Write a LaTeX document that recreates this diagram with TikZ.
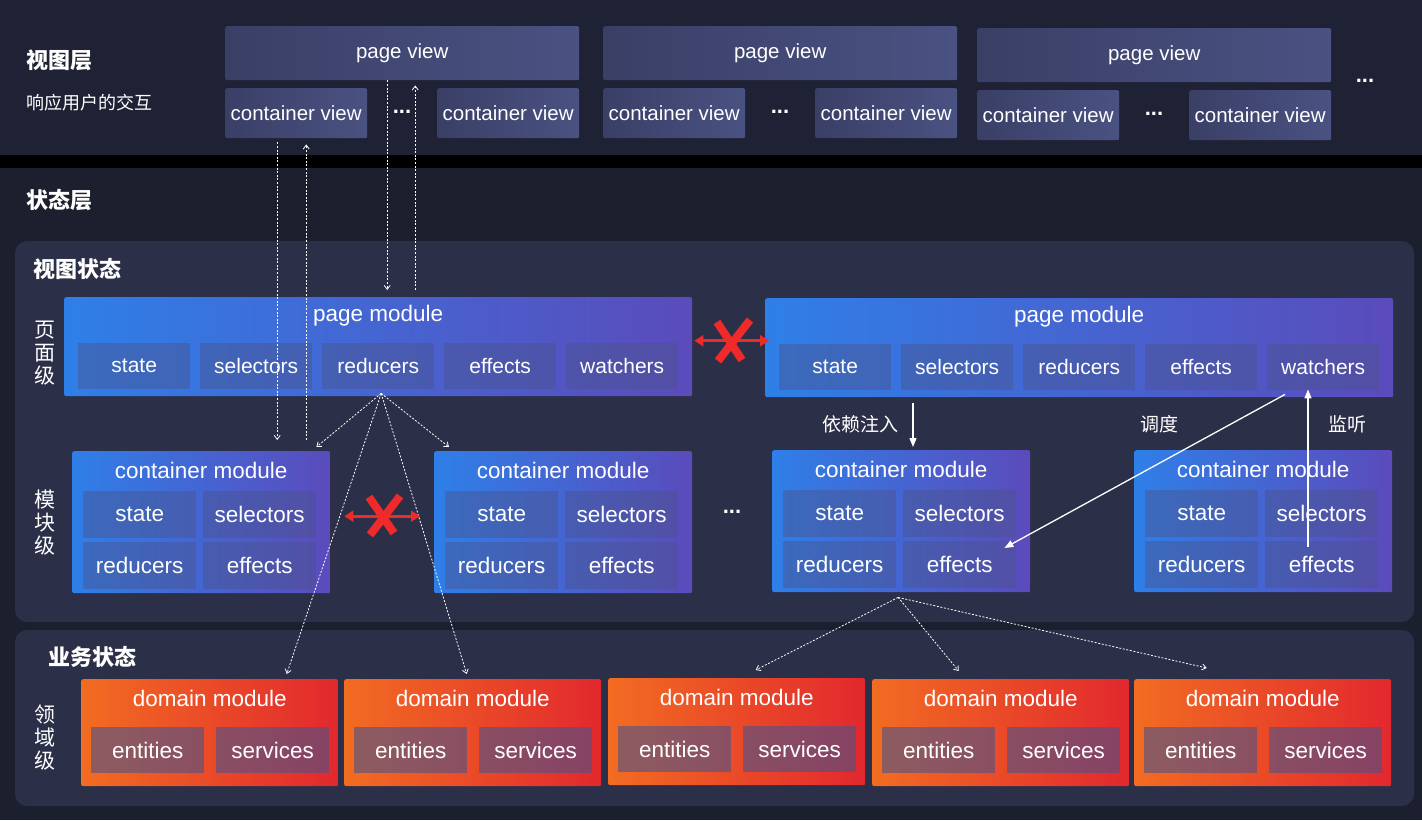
\documentclass[tikz,border=0pt]{standalone}
\usepackage{fontspec}
\setmainfont{Liberation Sans}
\newfontfamily\cjk{Noto Sans CJK SC}
\usepackage{xcolor}
\usepackage{tikz}
\usetikzlibrary{positioning, calc, arrows.meta}
\definecolor{bgdark}  {HTML}{1C1F2E}
\definecolor{bgtop}   {HTML}{1F2235}
\definecolor{panel}   {HTML}{2B2F48}
\definecolor{viewl}   {HTML}{3A3F66}
\definecolor{viewr}   {HTML}{4A5282}
\definecolor{modblue} {HTML}{2F7FE8}
\definecolor{modviol} {HTML}{5B4BBB}
\definecolor{domorng} {HTML}{F26C22}
\definecolor{domred}  {HTML}{E2282E}
\definecolor{itemtint}{HTML}{4A538A}
\definecolor{noway}   {HTML}{EE2A2A}

\begin{document}
\begin{tikzpicture}[x=1pt, y=-1pt,
  box/.style={rectangle, inner sep=0pt, anchor=north west, text=white},
  viewbox/.style={box, left color=viewl, right color=viewr, rounded corners=2pt,
                  minimum height=50pt, font=\fontsize{20.5}{24}\selectfont},
  pagemod/.style={box, left color=modblue, right color=modviol, rounded corners=2pt,
                  minimum width=628pt, minimum height=99pt},
  contmod/.style={pagemod, minimum width=258pt, minimum height=142pt},
  domod/.style={box, left color=domorng, right color=domred, rounded corners=2pt,
                minimum width=257pt, minimum height=107pt},
  modtitle/.style={text=white, inner sep=0pt, font=\fontsize{22.5}{26}\selectfont},
  item/.style={box, fill=itemtint, fill opacity=0.45, text opacity=1,
               minimum width=113pt, minimum height=47pt, font=\fontsize{22.5}{26}\selectfont},
  pmitem/.style={item, minimum width=112pt, minimum height=46pt, font=\fontsize{21}{24}\selectfont},
  dmitem/.style={item, fill opacity=0.6, minimum height=46pt},
  dots/.style={text=white, font=\bfseries\fontsize{22}{24}\selectfont},
  layerlbl/.style={anchor=west, text=white, inner sep=0pt, font=\cjk\bfseries\fontsize{22}{26}\selectfont},
  sidelbl/.style={text=white, inner sep=0pt, align=center, font=\cjk\fontsize{21}{23}\selectfont},
  notelbl/.style={text=white, inner sep=0pt, font=\cjk\fontsize{19}{22}\selectfont},
  dotflow/.style={draw=white!85, line width=0.8pt, dash pattern=on 2pt off 1.6pt,
                  -{Straight Barb[length=4pt, width=6pt]}},
  link/.style={draw=white, line width=1.3pt, -{Triangle[length=9pt, width=7pt]}},
  noarrow/.style={draw=noway, line width=2.6pt, {Triangle[length=9pt, width=11pt]}-{Triangle[length=9pt, width=11pt]}},
  nomark/.style={draw=noway, line width=8pt}
]

  % backgrounds
  \fill[bgdark] (0,0) rectangle (1422,820);
  \fill[bgtop] (0,0) rectangle (1422,155);
  \fill[black] (0,155) rectangle (1422,168);
  \fill[panel, rounded corners=12pt] (15,241) rectangle (1414,622);
  \fill[panel, rounded corners=12pt] (15,630) rectangle (1414,806);

  % layer labels
  \node[layerlbl] (lview)  at (26,60)  {视图层};
  \node[anchor=west, text=white, inner sep=0pt, font=\cjk\fontsize{18}{22}\selectfont]
       (lviewsub) at (26,103) {响应用户的交互};
  \node[layerlbl] (lstate) at (26,200) {状态层};
  \node[layerlbl] (lvstate) at (33,269) {视图状态};
  \node[layerlbl] (lbstate) at (48,657) {业务状态};
  \node[sidelbl] (lpage) at (45,353) {页\\面\\级};
  \node[sidelbl] (lmod)  at (45,523) {模\\块\\级};
  \node[sidelbl] (ldom)  at (45,738) {领\\域\\级};

  % view layer
  \foreach \g/\x/\y in {1/225/26, 2/603/26, 3/977/28} {
    \node[viewbox, minimum width=354pt, minimum height=54pt] (pv\g) at (\x,\y) {page view};
    \node[viewbox, minimum width=142pt] (cva\g) at (\x,\y+62) {container view};
    \node[viewbox, minimum width=142pt] (cvb\g) at (\x+212,\y+62) {container view};
    \node[dots] (vdots\g) at (\x+177,\y+86) {...};
  }
  \node[dots] (vdots4) at (1365,81) {...};

  % page modules
  \foreach \m/\x/\y in {pm1/64/297, pm2/765/298} {
    \node[pagemod] (\m) at (\x,\y) {};
    \node[modtitle] (\m-t) at ($(\m.north)+(0,19)$) {page module};
    \foreach \j/\lbl in {0/state, 1/selectors, 2/reducers, 3/effects, 4/watchers}
      \node[pmitem] (\m-\j) at (\x+14+\j*122,\y+46) {\lbl};
  }

  % container modules
  \foreach \m/\x/\y in {cm1/72/451, cm2/434/451, cm3/772/450, cm4/1134/450} {
    \node[contmod] (\m) at (\x,\y) {};
    \node[modtitle] (\m-t) at ($(\m.north)+(0,19)$) {container module};
    \foreach \j/\lbl in {0/state, 1/selectors, 2/reducers, 3/effects}
      \node[item] (\m-\j) at ({\x+11+mod(\j,2)*120},{\y+40+div(\j,2)*51}) {\lbl};
  }
  \node[dots] (mdots) at (732,512) {...};

  % domain modules
  \foreach \m/\x/\y in {dm1/81/679, dm2/344/679, dm3/608/678, dm4/872/679, dm5/1134/679} {
    \node[domod] (\m) at (\x,\y) {};
    \node[modtitle] (\m-t) at ($(\m.north)+(0,19)$) {domain module};
    \node[dmitem] (\m-0) at (\x+10,\y+48) {entities};
    \node[dmitem] (\m-1) at (\x+135,\y+48) {services};
  }

  % view <-> state
  \coordinate (va) at ($(cva1.south)+(-19,0)$);
  \coordinate (vb) at ($(cva1.south)+(10,0)$);
  \coordinate (pa) at ($(pv1.south)+(-15,0)$);
  \coordinate (pb) at ($(pv1.south)+(13,0)$);
  \draw[dotflow, shorten <=4pt, shorten >=11pt] (va) -- (va |- cm1.north);
  \draw[dotflow, shorten <=11pt, shorten >=6pt] (vb |- cm1.north) -- (vb);
  \draw[dotflow, shorten >=7pt] (pa) -- (pa |- pm1.north);
  \draw[dotflow, shorten <=7pt, shorten >=5pt] (pb |- pm1.north) -- (pb);

  % page module fan-out
  \coordinate (pf) at ($(pm1.south)+(3,-3)$);
  \draw[dotflow] (pf) -- ($(cm1.north east)+(-14,-4)$);
  \draw[dotflow] (pf) -- ($(cm2.north west)+(15,-4)$);
  \draw[dotflow] (pf) -- ($(dm1.north)+(77,-5)$);
  \draw[dotflow] (pf) -- ($(dm2.north)+(-6,-5)$);

  % container module fan-out
  \coordinate (cf) at ($(cm3.south)+(-3,5)$);
  \draw[dotflow] (cf) -- ($(dm3.north)+(19,-8)$);
  \draw[dotflow] (cf) -- ($(dm4.north)+(-42,-8)$);
  \draw[dotflow] (cf) -- ($(dm5.north)+(-56,-11)$);

  % no direct links
  \draw[noarrow] ($(pm1.east)+(2,-6)$) -- ($(pm2.west)+(4,-7)$);
  \coordinate (nx1) at (730,340);
  \draw[nomark] ($(nx1)+(-13,-18)$) -- ($(nx1)+(12,20)$);
  \draw[nomark] ($(nx1)+(20,-20)$) -- ($(nx1)+(-12,21)$);
  \draw[noarrow] ($(cm1.east)+(14,-6)$) -- ($(cm2.west)+(-14,-6)$);
  \coordinate (nx2) at (382,515);
  \draw[nomark] ($(nx2)+(-13,-18)$) -- ($(nx2)+(12,18)$);
  \draw[nomark] ($(nx2)+(18,-19)$) -- ($(nx2)+(-12,20)$);

  % injection, dispatch, watch
  \coordinate (inj) at ($(cm3.north west)+(141,0)$);
  \draw[link, shorten <=6pt, shorten >=3pt] (inj |- pm2.south) -- (inj);
  \node[notelbl] (linj) at (860,424) {依赖注入};
  \draw[link] ($(pm2-4.south west)+(18,4)$) -- ($(cm3-3.north east)+(-12,7)$);
  \node[notelbl] (ldisp) at (1159,424) {调度};
  \coordinate (wt) at ($(cm4-3.north west)+(43,6)$);
  \draw[link, shorten >=-1pt] (wt) -- (wt |- pm2-4.south);
  \node[notelbl] (lwatch) at (1347,424) {监听};

\end{tikzpicture}
\end{document}
